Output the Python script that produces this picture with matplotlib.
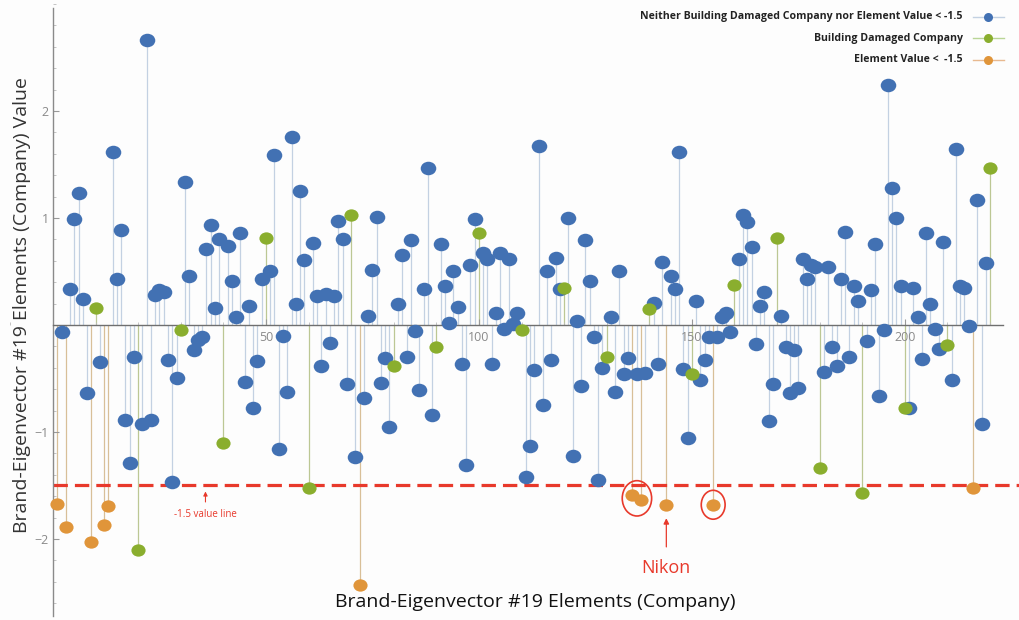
import numpy as np
import matplotlib
matplotlib.use("Agg")
import matplotlib.pyplot as plt
from matplotlib.path import Path
from matplotlib.patches import Ellipse
from matplotlib.lines import Line2D
from matplotlib.ticker import FixedLocator, MultipleLocator

plt.rcParams['font.family'] = ['Open Sans', 'DejaVu Sans']

# Eigenvector #19 element values, one per company (index 1..220)
values = [
    -1.67, -0.07, -1.89, 0.34, 0.99, 1.23, 0.24, -0.64, -2.03, 0.16,
    -0.35, -1.87, -1.69, 1.62, 0.43, 0.89, -0.89, -1.29, -0.30, -2.10,
    -0.93, 2.66, -0.89, 0.28, 0.33, 0.31, -0.33, -1.47, -0.50, -0.05,
    1.34, 0.46, -0.23, -0.14, -0.11, 0.71, 0.93, 0.16, 0.80, -1.10,
    0.74, 0.41, 0.07, 0.86, -0.53, 0.18, -0.78, -0.34, 0.43, 0.81,
    0.50, 1.59, -1.16, -0.10, -0.63, 1.76, 0.20, 1.25, 0.61, -1.52,
    0.77, 0.27, -0.38, 0.29, -0.17, 0.27, 0.97, 0.80, -0.55, 1.03,
    -1.23, -2.43, -0.68, 0.08, 0.51, 1.01, -0.54, -0.31, -0.95, -0.38,
    0.20, 0.65, -0.30, 0.79, -0.06, -0.61, 0.34, 1.47, -0.84, -0.21,
    0.76, 0.36, 0.02, 0.50, 0.17, -0.36, -1.31, 0.56, 0.99, 0.86,
    0.67, 0.62, -0.36, 0.11, 0.67, -0.04, 0.62, 0.01, 0.11, -0.05,
    -1.42, -1.13, -0.42, 1.67, -0.75, 0.50, -0.33, 0.63, 0.34, 0.35,
    1.00, -1.22, 0.04, -0.57, 0.79, 0.41, -0.11, -1.45, -0.40, -0.30,
    0.07, -0.63, 0.50, -0.46, -0.31, -1.59, -0.46, -1.64, -0.45, 0.15,
    0.21, -0.36, 0.59, -1.68, 0.46, 0.34, 1.62, -0.41, -1.06, -0.46,
    0.22, -0.51, -0.33, -0.11, -1.68, -0.11, 0.07, 0.11, -0.07, 0.37,
    0.62, 1.03, 0.96, 0.73, -0.18, 0.18, 0.31, -0.90, -0.55, 0.81,
    0.08, -0.21, -0.64, -0.23, -0.59, 0.62, 0.43, 0.56, 0.54, -1.34,
    -0.44, 0.54, -0.21, -0.38, 0.43, 0.87, -0.30, 0.36, 0.22, -1.57,
    -0.15, 0.33, 0.76, -0.66, -0.05, 2.24, 1.28, 1.00, 0.36, -0.78,
    -0.78, 0.35, 0.07, -0.32, 0.86, 0.20, -0.04, -0.22, 0.78, -0.19,
    -0.51, 1.64, 0.36, 0.35, -0.01, -1.52, 1.17, -0.93, 0.58, 1.47,
]
# companies with damaged buildings
damaged = [10, 20, 30, 40, 50, 60, 70, 80, 90, 100, 110, 120, 130, 140,
           150, 160, 170, 180, 190, 200, 210, 220]
threshold = -1.5

legend_labels = ["Neither Building Damaged Company nor Element Value < -1.5",
                 "Building Damaged Company",
                 "Element Value <  -1.5"]
x_ticks = [50, 100, 150, 200]
y_ticks = [-2, -1, 1, 2]

idx = np.arange(1, len(values) + 1)
vals = np.array(values)
is_green = np.isin(idx, damaged)
is_orange = (vals < threshold) & ~is_green
is_blue = ~is_green & ~is_orange

c_blue, c_green, c_orange = "#4271b3", "#8aae2e", "#e0953a"
s_blue, s_green, s_orange = "#c3d1e2", "#bcc794", "#d8bf98"

# slightly wide elliptical point marker
circ = Path.unit_circle()
ell = Path(circ.vertices * np.array([1.15, 1.0]), circ.codes)

fig = plt.figure(figsize=(10.19, 6.2), dpi=100)
fig.patch.set_facecolor("#fdfdfd")
ax = fig.add_axes([0, 0, 1, 1])
ax.set_facecolor("#fdfdfd")
ax.set_xlim(-12.44, 226.8)
ax.set_ylim(-2.757, 3.037)

# stems
for mask, sc in ((is_blue, s_blue), (is_green, s_green), (is_orange, s_orange)):
    ax.vlines(idx[mask], 0, vals[mask], colors=sc, lw=0.9, zorder=1)

# threshold line
ax.plot([0, 227], [threshold, threshold], color="#e8392b", lw=2.3,
        dashes=(4.5, 2.2), zorder=2)

# points
ax.plot(idx[is_blue], vals[is_blue], ls="none", marker=ell, ms=11.2,
        color=c_blue, mew=0, zorder=3)
ax.plot(idx[is_green], vals[is_green], ls="none", marker=ell, ms=10.2,
        color=c_green, mew=0, zorder=3)
ax.plot(idx[is_orange], vals[is_orange], ls="none", marker=ell, ms=10.2,
        color=c_orange, mew=0, zorder=3)

# axes through origin
for side in ("top", "right"):
    ax.spines[side].set_visible(False)
ax.spines["left"].set_position(("data", 0))
ax.spines["bottom"].set_position(("data", 0))
ax.spines["left"].set_bounds(-2.72, 2.96)
ax.spines["bottom"].set_bounds(0, 223)
ax.spines["left"].set_color("#8a8a8a")
ax.spines["bottom"].set_color("#6f6f6f")
ax.spines["left"].set_linewidth(1.0)
ax.spines["bottom"].set_linewidth(1.0)

ax.xaxis.set_major_locator(FixedLocator(x_ticks))
ax.xaxis.set_minor_locator(MultipleLocator(10))
ax.yaxis.set_major_locator(FixedLocator(y_ticks))
ax.yaxis.set_minor_locator(MultipleLocator(0.2))
ax.tick_params(axis="both", which="major", direction="in", length=4,
               color="#999999", labelcolor="#8a8a8a", labelsize=9, width=0.8)
ax.tick_params(axis="both", which="minor", direction="in", length=2,
               color="#bbbbbb", width=0.6)
ax.tick_params(axis="x", pad=4)
ax.tick_params(axis="y", pad=3)

# axis titles
fig.text(535 / 1019, 1 - 602 / 620, "Brand-Eigenvector #19 Elements (Company)",
         ha="center", va="center", fontsize=14, color="#111111")
fig.text(22 / 1019, 1 - 305 / 620, "Brand-Eigenvector #19 Elements (Company) Value",
         ha="center", va="center", rotation=90, fontsize=14, color="#333333")

# threshold note
ax.text(35.8, -1.77, "-1.5 value line", ha="center", va="center",
        fontsize=7, color="#e8392b")
ax.annotate("", xy=(35.8, -1.53), xytext=(35.8, -1.68),
            arrowprops=dict(arrowstyle="-|>", color="#e8392b", lw=0.8,
                            mutation_scale=6))

# highlighted companies
ax.add_patch(Ellipse((137.1, -1.62), 6.9, 0.33, fill=False,
                     ec="#e8392b", lw=1.2, zorder=4))
ax.add_patch(Ellipse((155.0, -1.68), 5.6, 0.27, fill=False,
                     ec="#e8392b", lw=1.2, zorder=4))
ax.annotate("", xy=(144, -1.78), xytext=(144, -2.10),
            arrowprops=dict(arrowstyle="-|>", color="#e8392b", lw=0.9,
                            mutation_scale=8))
ax.text(144, -2.27, "Nikon", ha="center", va="center", fontsize=13,
        color="#e8392b")

# legend
rows_y = [17, 38, 60]
cols = [(c_blue, s_blue), (c_green, "#b9d596"), (c_orange, "#e8b98f")]
for lab, ry, (mc, lc) in zip(legend_labels, rows_y, cols):
    yf = 1 - ry / 620
    fig.text(963 / 1019, yf, lab, ha="right", va="center", fontsize=7.6,
             fontweight="bold", color="#222222")
    fig.add_artist(Line2D([973 / 1019, 1004 / 1019], [yf, yf],
                          transform=fig.transFigure, color=lc, lw=1.0))
    fig.add_artist(Line2D([988 / 1019], [yf], transform=fig.transFigure,
                          ls="none", marker="o", ms=6.5, color=mc, mew=0))

fig.savefig("out.png", dpi=100, facecolor=fig.get_facecolor())
